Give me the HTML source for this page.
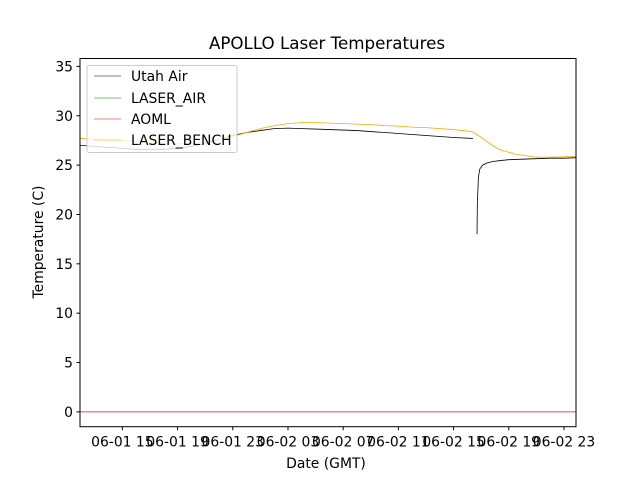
<!DOCTYPE html>
<html><head><meta charset="utf-8"><style>
html,body{margin:0;padding:0;background:#fff;}
body{position:relative;width:640px;height:480px;overflow:hidden}
svg text{font-family:"DejaVu Sans","Liberation Sans",sans-serif;}
</style></head><body>
<svg id="chart" width="640" height="480" viewBox="0 0 640 480" xmlns="http://www.w3.org/2000/svg" style="position:absolute;left:0;top:0">
<rect width="640" height="480" fill="#fff"/>
<g id="plot"></g>
</svg>
<script>
// hours since 06-01 00:00 GMT
const utahHours1 = [11.93,13,14,15,16,17,18,19,20,21,22,23,24,25,26,27,28,29,30,31,32,33,34,35,36,37,38,39,40.4];
const utahTemps1 = [27.0,26.9,26.8,26.7,26.6,26.6,26.6,26.7,26.9,27.2,27.6,28.0,28.3,28.5,28.7,28.75,28.7,28.65,28.6,28.55,28.5,28.4,28.3,28.2,28.1,28.0,27.9,27.8,27.7];
const utahHours2 = [40.7,40.72,40.8,40.9,41.1,41.4,41.8,42.3,43,44,45,46,47,47.87];
const utahTemps2 = [18.0,21.0,23.8,24.6,25.0,25.2,25.35,25.45,25.55,25.6,25.65,25.7,25.7,25.75];
const benchHours = [11.93,13,14,15,16,17,18,19,20,21,22,23,24,25,26,27,28,29,30,31,32,33,34,35,36,37,38,39,40.3,40.8,41.3,41.8,42.3,43,43.5,44,45,46,47,47.87];
const benchTemps = [27.7,27.6,27.55,27.5,27.4,27.3,27.2,27.15,27.2,27.4,27.6,27.9,28.3,28.7,29.0,29.2,29.3,29.3,29.25,29.2,29.15,29.1,29.0,28.95,28.85,28.8,28.7,28.6,28.4,28.0,27.5,27.0,26.6,26.3,26.1,26.0,25.8,25.8,25.85,25.9];
const aomlHours = [11.93,47.87];
const aomlTemps = [0,0];
const yTicks = [0,5,10,15,20,25,30,35];
const xTickHours = [15,19,23,27,31,35,39,43,47];
const xTickLabels = ["06-01 15","06-01 19","06-01 23","06-02 03","06-02 07","06-02 11","06-02 15","06-02 19","06-02 23"];

const L=80,R=576,T=58.5,B=426.7;
const X0=11.93,X1=47.87,Y0=-1.5,Y1=35.8;
const xs=h=>L+(h-X0)/(X1-X0)*(R-L);
const ys=v=>B-(v-Y0)/(Y1-Y0)*(B-T);
const NS="http://www.w3.org/2000/svg";
const g=document.getElementById('plot');
function mk(tag,attrs,parent){const e=document.createElementNS(NS,tag);for(const k in attrs)e.setAttribute(k,attrs[k]);(parent||g).appendChild(e);return e;}
function line(hs,vs,color,name){
  const d=hs.map((h,i)=>(i?'L':'M')+xs(h).toFixed(2)+','+ys(vs[i]).toFixed(2)).join('');
  const p=mk('path',{d:d,fill:'none',stroke:color,'stroke-width':0.8});
  
  
}
line(aomlHours,aomlTemps,'#ff0000','aoml-line');
line(utahHours1,utahTemps1,'#000','utah-air-line-1');
line(utahHours2,utahTemps2,'#000','utah-air-line-2');
line(benchHours,benchTemps,'#ffa500','laser-bench-line');
const fr=mk('rect',{x:L,y:T,width:R-L,height:B-T,fill:'none',stroke:'#000','stroke-width':1});


yTicks.forEach(v=>{
  const y=ys(v);
  const t=mk('line',{x1:L-3.5,x2:L,y1:y,y2:y,stroke:'#000'});
  
  
  const tx=mk('text',{x:L-7,y:y+5,'text-anchor':'end','font-size':13.9});
  tx.textContent=v;
  
  
});
xTickHours.forEach((h,i)=>{
  const x=xs(h);
  const t=mk('line',{x1:x,x2:x,y1:B,y2:B+3.5,stroke:'#000'});
  
  
  const tx=mk('text',{x:x,y:B+20,'text-anchor':'middle','font-size':13.9});
  tx.textContent=xTickLabels[i];
  
  
});
</script>
<svg width="640" height="480" style="position:absolute;left:0;top:0" xmlns="http://www.w3.org/2000/svg">
<text x="327" y="49" text-anchor="middle" font-size="16.7" font-family="DejaVu Sans, Liberation Sans, sans-serif">APOLLO Laser Temperatures</text>
<text x="326" y="468" text-anchor="middle" font-size="13.9" font-family="DejaVu Sans, Liberation Sans, sans-serif">Date (GMT)</text>
<text transform="translate(43,242) rotate(-90)" text-anchor="middle" font-size="13.9" font-family="DejaVu Sans, Liberation Sans, sans-serif">Temperature (C)</text>
<g font-family="DejaVu Sans, Liberation Sans, sans-serif" font-size="13.9">
<rect x="87" y="65.5" width="150" height="87" rx="2" fill="#fff" fill-opacity="0.8" stroke="#ccc"/>
<line x1="94" x2="121" y1="76" y2="76" stroke="#000" stroke-width="0.6"/>
<text x="131" y="81">Utah Air</text>
<line x1="94" x2="121" y1="98" y2="98" stroke="#008000" stroke-width="0.6"/>
<text x="131" y="103">LASER_AIR</text>
<line x1="94" x2="121" y1="119" y2="119" stroke="#ff0000" stroke-width="0.6"/>
<text x="131" y="124">AOML</text>
<line x1="94" x2="121" y1="140" y2="140" stroke="#ffa500" stroke-width="0.6"/>
<text x="131" y="145">LASER_BENCH</text>
</g>
</svg>
</body></html>
